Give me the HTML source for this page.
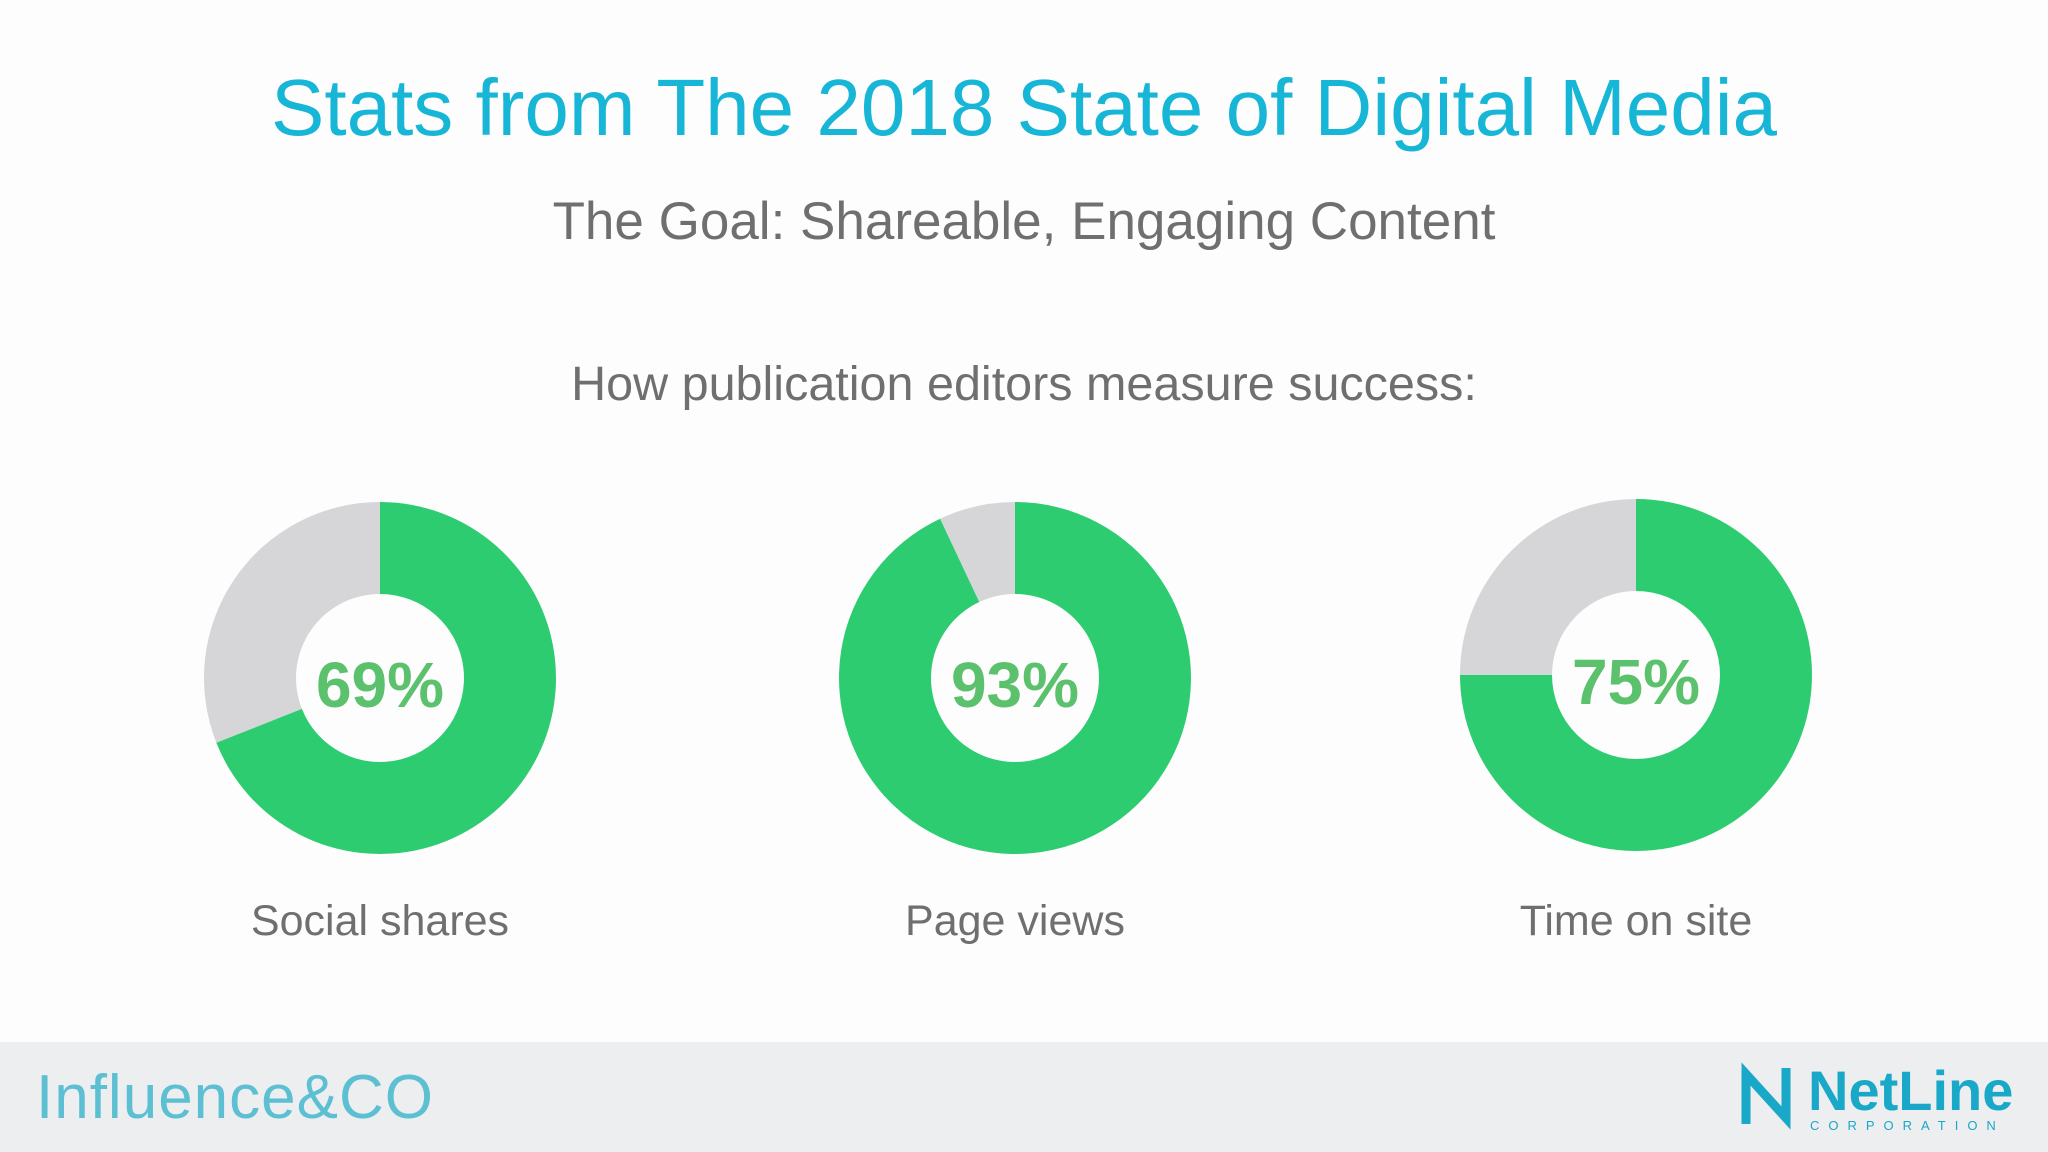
<!DOCTYPE html>
<html><head><meta charset="utf-8"><style>
html,body{margin:0;padding:0;width:2048px;height:1152px;overflow:hidden;background:#fdfdfd;font-family:"Liberation Sans",sans-serif}
.t{position:absolute;left:0;width:2048px;text-align:center;white-space:nowrap}
</style></head><body>
<div class="t" style="top:62px;font-size:80px;color:#17b6d6">Stats from The 2018 State of Digital Media</div>
<div class="t" style="top:191px;font-size:53px;color:#6f6f6f">The Goal: Shareable, Engaging Content</div>
<div class="t" style="top:356px;font-size:48.5px;color:#6f6f6f">How publication editors measure success:</div>
<svg id="chart" width="2048" height="1152" style="position:absolute;left:0;top:0"></svg>
<div style="position:absolute;left:0;top:1042px;width:2048px;height:110px;background:#eceef0"></div>
<div style="position:absolute;left:36px;top:1062px;font-size:62px;color:#5dbfd2;letter-spacing:1px">Influence&amp;CO</div>
<div style="position:absolute;left:1736px;top:1056px;width:280px;height:80px">
<svg width="70" height="80" style="position:absolute;left:0;top:0"><path d="M10 68 L10 18 L50 62 L50 12" fill="none" stroke="#1aa8c8" stroke-width="9"/></svg>
<div style="position:absolute;left:72px;top:2px;font-size:56px;font-weight:bold;color:#1aa8c8">NetLine</div>
<div style="position:absolute;left:74px;top:62px;font-size:13px;letter-spacing:9px;color:#1aa8c8">CORPORATION</div>
</div>
<script>
const categories=["Social shares","Page views","Time on site"];
const values=[69,93,75];
const centersX=[380,1015,1636];
const centerY=[678,678,675];
const R=176,r=84;
const svg=document.getElementById('chart');
const NS='http://www.w3.org/2000/svg';
function pt(cx,cy,rad,p){const a=p/100*2*Math.PI;return [cx+rad*Math.sin(a),cy-rad*Math.cos(a)];}
function arc(cx,cy,p0,p1){const large=(p1-p0)>50?1:0;const a=pt(cx,cy,R,p0),b=pt(cx,cy,R,p1),c=pt(cx,cy,r,p1),d=pt(cx,cy,r,p0);
return `M${a[0]} ${a[1]} A${R} ${R} 0 ${large} 1 ${b[0]} ${b[1]} L${c[0]} ${c[1]} A${r} ${r} 0 ${large} 0 ${d[0]} ${d[1]}Z`;}
values.forEach((v,i)=>{
const cx=centersX[i],cy=centerY[i];
const g=document.createElementNS(NS,'path');g.setAttribute('d',arc(cx,cy,v,100));g.setAttribute('fill','#d6d6d8');


svg.appendChild(g);
const s=document.createElementNS(NS,'path');s.setAttribute('d',arc(cx,cy,0,v));s.setAttribute('fill','#2ecc71');


svg.appendChild(s);
const t=document.createElementNS(NS,'text');t.setAttribute('x',cx);t.setAttribute('y',cy+29);t.setAttribute('text-anchor','middle');
t.setAttribute('font-size','64');t.setAttribute('font-weight','bold');t.setAttribute('fill','#5cc16c');t.setAttribute('font-family','Liberation Sans, sans-serif');
t.textContent=v+'%';


svg.appendChild(t);
const l=document.createElementNS(NS,'text');l.setAttribute('x',cx);l.setAttribute('y',935);l.setAttribute('text-anchor','middle');
l.setAttribute('font-size','43');l.setAttribute('fill','#6f6f6f');l.setAttribute('font-family','Liberation Sans, sans-serif');
l.textContent=categories[i];


svg.appendChild(l);
});
</script>
</body></html>
